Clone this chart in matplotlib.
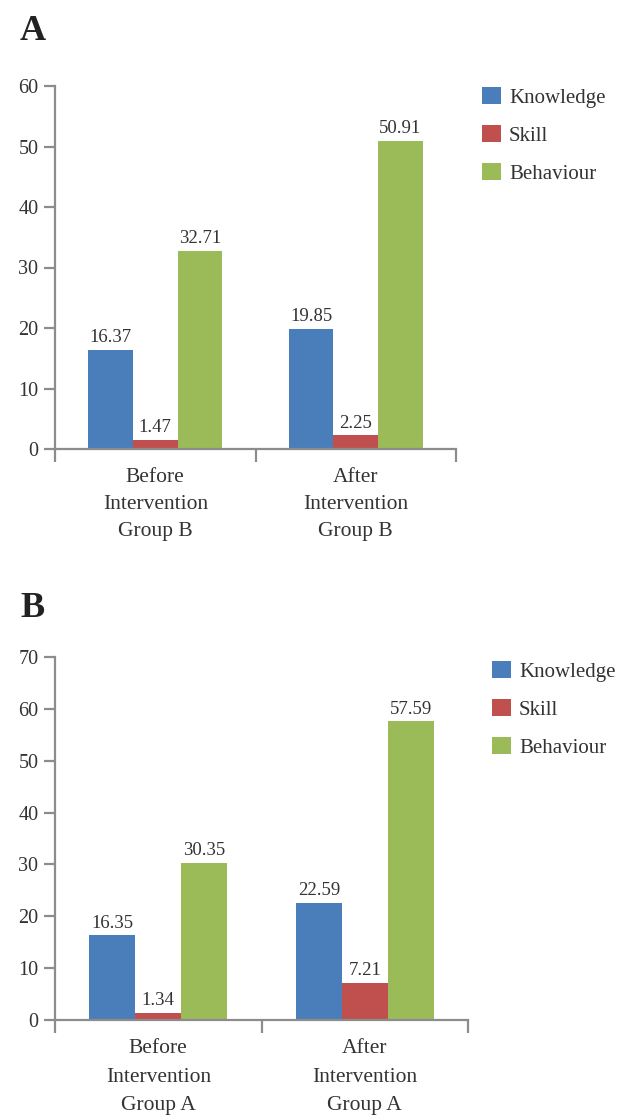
"""
Knowledge / skill / behaviour scores before and after intervention, groups B and A.
"""

import matplotlib.pyplot as plt
import numpy as np

# data
series = ["Knowledge", "Skill", "Behaviour"]
groups_a = ["Before\nIntervention\nGroup B", "After\nIntervention\nGroup B"]
knowledge_a = [16.37, 19.85]
skill_a = [1.47, 2.25]
behaviour_a = [32.71, 50.91]

groups_b = ["Before\nIntervention\nGroup A", "After\nIntervention\nGroup A"]
knowledge_b = [16.35, 22.59]
skill_b = [1.34, 7.21]
behaviour_b = [30.35, 57.59]

colors = ["#4a7ebb", "#c0504d", "#9bbb59"]
axis_color = "#8c8c8c"
text_color = "#333333"

plt.rcParams["font.family"] = ["Liberation Serif", "DejaVu Serif"]

W, H = 624, 1117
fig = plt.figure(figsize=(W / 100, H / 100), dpi=100)


def px_axes(left, right, top, bottom):
    return fig.add_axes([left / W, 1 - bottom / H, (right - left) / W, (bottom - top) / H])


def draw_panel(ax, letter, letter_y, groups, values, ymax, legend_xy, lspace):
    x = np.arange(len(groups)) + 0.5
    width = 0.222
    bars = []
    for i, (name, vals) in enumerate(zip(series, values)):
        b = ax.bar(x + (i - 1) * width, vals, width, color=colors[i], label=name, zorder=2)
        bars.append(b)
        for rect, v in zip(b, vals):
            ax.text(rect.get_x() + rect.get_width() / 2, v + ymax * 0.01, f"{v:.2f}",
                    ha="center", va="bottom", fontsize=13.5, color=text_color)

    ax.set_xlim(0, len(groups))
    ax.set_ylim(0, ymax)
    ax.set_yticks(np.arange(0, ymax + 1, 10))
    ax.set_xticks(x)
    ax.set_xticklabels(groups, linespacing=lspace, fontsize=15.5, color=text_color)
    ax.set_xticks(np.arange(len(groups) + 1), minor=True)
    ax.tick_params(axis="x", which="major", length=0, pad=14)
    ax.tick_params(axis="x", which="minor", length=9, width=1.6, color=axis_color)
    ax.tick_params(axis="y", length=8, width=1.6, color=axis_color, labelsize=14.5,
                   labelcolor=text_color, pad=4)

    for s in ["top", "right"]:
        ax.spines[s].set_visible(False)
    for s in ["left", "bottom"]:
        ax.spines[s].set_color(axis_color)
        ax.spines[s].set_linewidth(1.6)

    fig.legend(handles=bars, labels=series, loc="upper left",
               bbox_to_anchor=(legend_xy[0] / W, 1 - legend_xy[1] / H),
               frameon=False, fontsize=15, handlelength=0.9, handleheight=0.9,
               handletextpad=0.4, labelspacing=0.82, borderpad=0, borderaxespad=0,
               labelcolor=text_color)

    fig.text(20 / W, 1 - letter_y / H, letter, fontsize=26, fontweight="bold",
             va="top", ha="left", color="#222222")


ax_a = px_axes(55, 456, 86, 449)
draw_panel(ax_a, "A", 15, groups_a, [knowledge_a, skill_a, behaviour_a], 60, (482, 87), 1.55)

ax_b = px_axes(55, 468, 657, 1020)
draw_panel(ax_b, "B", 592, groups_b, [knowledge_b, skill_b, behaviour_b], 70, (492, 661), 1.65)

plt.savefig("out.png", dpi=100)
print("Saved plot to out.png")
